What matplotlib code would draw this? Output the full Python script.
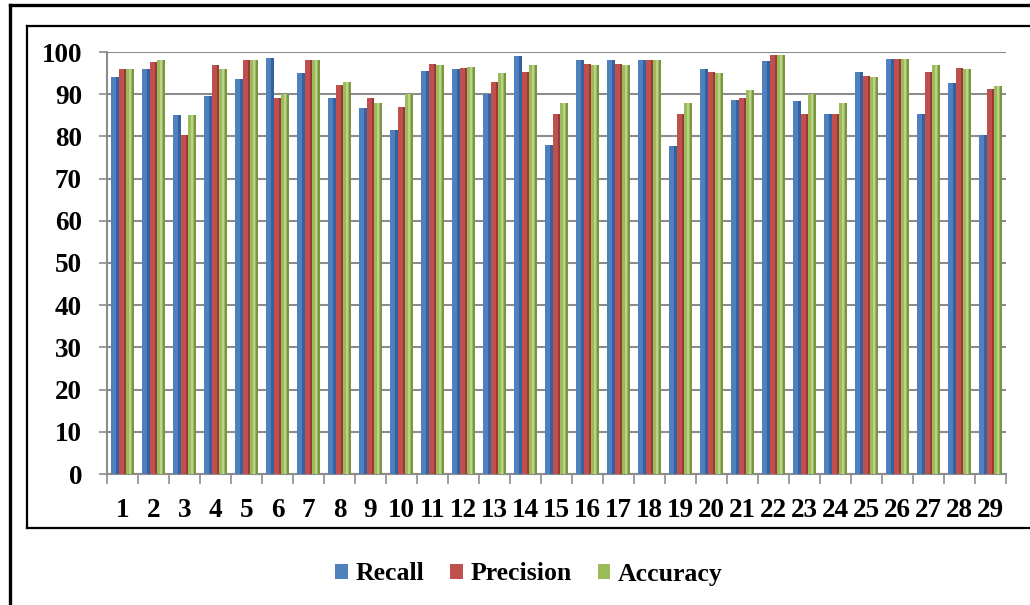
import numpy as np
import matplotlib.pyplot as plt
from matplotlib.patches import Patch
from matplotlib.lines import Line2D

# scores for each of the 29 test cases
cases = list(range(1, 30))
recall = [94, 96, 85, 89.5, 93.5, 98.6, 95, 89, 86.7, 81.5,
          95.5, 96, 90, 99, 78, 98, 98.2, 98, 77.8, 96,
          88.7, 97.8, 88.5, 85.4, 95.2, 98.3, 85.3, 92.7, 80.3]
precision = [96, 97.6, 80.3, 97, 98.2, 89, 98.2, 92.2, 89, 87,
             97.2, 96.2, 93, 95.3, 85.3, 97.2, 97.2, 98.2, 85.3, 95.3,
             89, 99.3, 85.3, 85.3, 94.4, 98.3, 95.3, 96.2, 91.2]
accuracy = [96, 98, 85, 96, 98, 90, 98, 93, 88, 90,
            97, 96.5, 95, 97, 88, 97, 97, 98, 88, 95,
            91, 99.3, 90, 88, 94, 98.3, 97, 96, 92]

series = [("Recall", recall, "#4f81bd", "#2f5597"),
          ("Precision", precision, "#c0504d", "#8b3432"),
          ("Accuracy", accuracy, "#9bbb59", "#6f8a3a")]

plt.rcParams['font.family'] = ['Liberation Serif', 'DejaVu Serif']
plt.rcParams['font.weight'] = 'bold'
FS = 19.5

W, H = 1030, 605
fig = plt.figure(figsize=(W / 100, H / 100), dpi=100)
ax = fig.add_axes([107 / W, 1 - 474 / H, 899 / W, 422 / H])

x = np.arange(len(cases)) + 1
bw = 0.25
for i, (name, vals, face, side) in enumerate(series):
    pos = x + (i - 1) * bw
    ax.bar(pos, vals, width=bw, color=face, edgecolor='none', zorder=3)
    # darker right face for a bit of depth
    ax.bar(pos + bw * 0.36, vals, width=bw * 0.28, color=side,
           edgecolor='none', zorder=4, alpha=0.75)
    if name == "Accuracy":
        ax.bar(pos - bw * 0.05, vals, width=bw * 0.3, color="#c3d89a",
               edgecolor='none', zorder=4, alpha=0.8)

ax.set_xlim(0.5, 29.5)
ax.set_ylim(0, 100)
ax.set_yticks(range(0, 101, 10))
ax.set_xticks(x)
ax.set_xticklabels([str(c) for c in cases])
ax.set_xticks(np.arange(0.5, 30, 1), minor=True)
ax.tick_params(axis='x', which='major', length=0, labelsize=FS, pad=17)
ax.tick_params(axis='x', which='minor', length=7, width=1.2, color='#8c8c8c', direction='out')
ax.tick_params(axis='y', length=6, width=1.2, color='#8c8c8c', labelsize=FS, pad=12)
for lab in ax.get_xticklabels() + ax.get_yticklabels():
    lab.set_fontweight('bold')

ax.grid(axis='y', color='#8c8c8c', linewidth=1.5, zorder=0)
for s in ['top', 'right']:
    ax.spines[s].set_visible(False)
for s in ['left', 'bottom']:
    ax.spines[s].set_color('#8c8c8c')
    ax.spines[s].set_linewidth(1.5)

# frames around the chart
def px_line(xs, ys, lw):
    fig.add_artist(Line2D([v / W for v in xs], [1 - v / H for v in ys],
                          color='black', linewidth=lw, transform=fig.transFigure))

px_line([9.5, 9.5], [5, H], 2.4)
px_line([9.5, W], [5, 5], 2.4)
px_line([27, 27], [26, 528], 1.6)
px_line([27, W], [26, 26], 1.6)
px_line([27, W], [528, 528], 1.6)

handles = [Patch(facecolor=face, edgecolor='none', label=name)
           for name, _, face, _ in series]
fig.legend(handles=handles, loc='center', bbox_to_anchor=(529 / W, 1 - 574 / H),
           ncol=3, frameon=False, prop={'size': 18.5, 'weight': 'bold'},
           handlelength=0.5, handleheight=0.5, handletextpad=0.3,
           columnspacing=1.0)

fig.savefig('out.png', dpi=100)
